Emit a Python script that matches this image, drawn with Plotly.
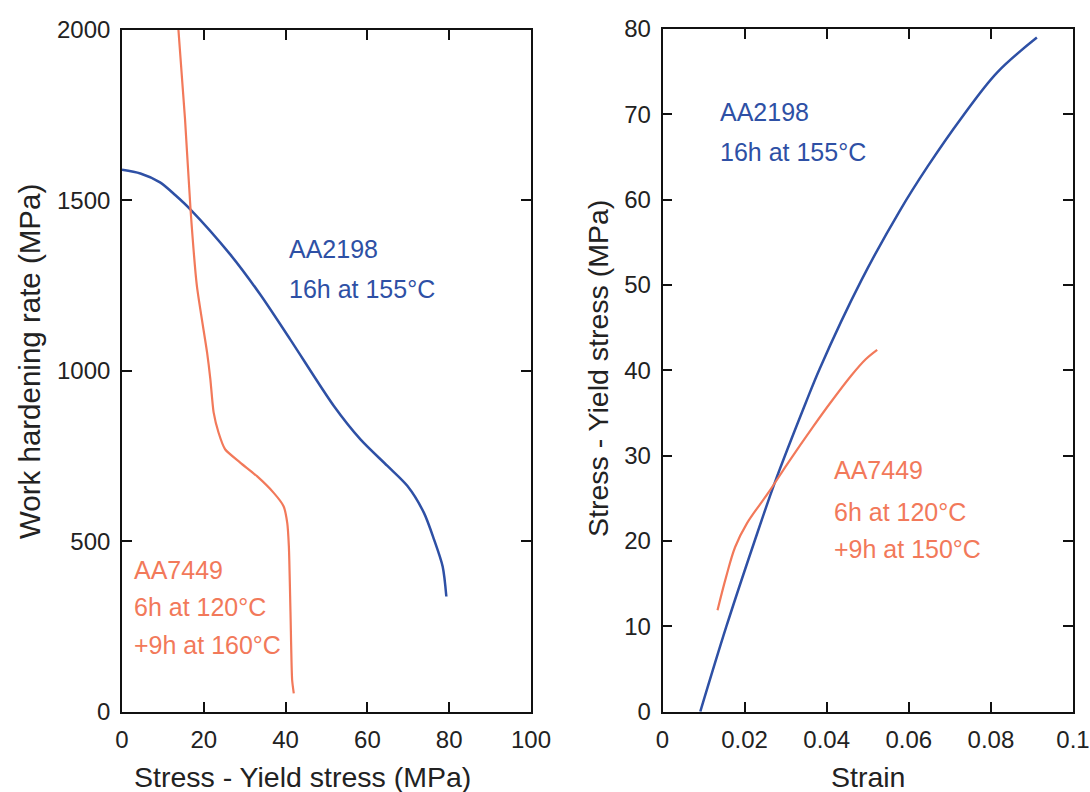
import plotly.graph_objects as go

# ---- Left panel: work hardening rate vs (stress - yield stress) ----
l_aa2198_x = [0, 4.5, 9.3, 13.0, 16.7, 26.5, 33.8, 41.2, 51.8, 58.3, 64.9, 69.8, 73.8, 76.3, 78.4, 79.3]
l_aa2198_y = [1590, 1579, 1553, 1516, 1474, 1341, 1224, 1091, 897, 799, 721, 662, 584, 505, 426, 338]

l_aa7449_x = [13.8, 15.4, 16.8, 18.3, 20.8, 21.6, 22.4, 23.6, 25.2, 28.9, 33.0, 37.1, 39.5, 40.4, 40.8, 41.2, 41.6, 42.0]
l_aa7449_y = [2000, 1740, 1466, 1250, 1054, 976, 878, 819, 770, 731, 691, 642, 603, 554, 485, 289, 93, 54]

# ---- Right panel: (stress - yield stress) vs strain ----
r_aa2198_x = [0.0092, 0.0155, 0.0223, 0.0274, 0.0349, 0.0383, 0.0485, 0.0578, 0.0646, 0.0730, 0.0815, 0.0912]
r_aa2198_y = [0, 9.9, 19.8, 26.9, 36.2, 40.2, 50.6, 58.7, 63.9, 69.7, 74.9, 79.0]

r_aa7449_x = [0.0134, 0.0155, 0.0177, 0.0206, 0.0257, 0.0308, 0.0367, 0.0409, 0.0460, 0.0495, 0.0523]
r_aa7449_y = [11.9, 15.8, 19.3, 22.1, 25.6, 29.3, 33.4, 36.2, 39.4, 41.3, 42.4]

BLUE = "#2e50a5"
ORANGE = "#f2795a"
FONT = "Liberation Sans, Arial, sans-serif"

fig = go.Figure()
fig.add_trace(go.Scatter(x=l_aa2198_x, y=l_aa2198_y, mode="lines", line=dict(color=BLUE, width=2.5, shape="spline", smoothing=0.8),
                         xaxis="x", yaxis="y", name="AA2198"))
fig.add_trace(go.Scatter(x=l_aa7449_x, y=l_aa7449_y, mode="lines", line=dict(color=ORANGE, width=2.2, shape="spline", smoothing=0.6),
                         xaxis="x", yaxis="y", name="AA7449"))
fig.add_trace(go.Scatter(x=r_aa2198_x, y=r_aa2198_y, mode="lines", line=dict(color=BLUE, width=2.5, shape="spline", smoothing=1.0),
                         xaxis="x2", yaxis="y2", name="AA2198"))
fig.add_trace(go.Scatter(x=r_aa7449_x, y=r_aa7449_y, mode="lines", line=dict(color=ORANGE, width=2.2, shape="spline", smoothing=1.0),
                         xaxis="x2", yaxis="y2", name="AA7449"))

W, H = 1090, 792
def fx(px):
    return px / W
def fy(py):
    return 1 - py / H

axis_common = dict(showgrid=False, zeroline=False, showline=True, linecolor="#111", linewidth=1.6,
                   mirror="allticks", ticks="inside", ticklen=10, tickwidth=1.6, tickcolor="#111",
                   tickfont=dict(family=FONT, size=24, color="#222"), automargin=False)

fig.update_layout(
    width=W, height=H, margin=dict(l=0, r=0, t=0, b=0),
    paper_bgcolor="white", plot_bgcolor="white", showlegend=False,
    font=dict(family=FONT),
    xaxis=dict(domain=[fx(122), fx(531)], range=[0, 100], dtick=20, anchor="y", ticklabelstandoff=6, **axis_common),
    yaxis=dict(domain=[fy(711.7), fy(30)], range=[0, 2000], dtick=500, anchor="x", ticklabelstandoff=5, **axis_common),
    xaxis2=dict(domain=[fx(662.5), fx(1073)], range=[0, 0.1], dtick=0.02, anchor="y2", ticklabelstandoff=6, **axis_common),
    yaxis2=dict(domain=[fy(711.7), fy(29)], range=[0, 80], dtick=10, anchor="x2", ticklabelstandoff=5, **axis_common),
)

def ann(text, x, y, xref, yref, color, size=25, angle=0, xanchor="left"):
    fig.add_annotation(text=text, x=x, y=y, xref=xref, yref=yref, showarrow=False,
                       font=dict(family=FONT, size=size, color=color), xanchor=xanchor,
                       yanchor="middle", textangle=angle)

# axis titles
ann("Stress - Yield stress (MPa)", fx(302.5), fy(777), "paper", "paper", "#222", size=28.5, xanchor="center")
ann("Strain", fx(868), fy(777), "paper", "paper", "#222", size=28.5, xanchor="center")
ann("Work hardening rate (MPa)", fx(29), fy(362), "paper", "paper", "#222", size=29.5, angle=-90, xanchor="center")
ann("Stress - Yield stress (MPa)", fx(598), fy(369), "paper", "paper", "#222", size=28.5, angle=-90, xanchor="center")

# curve labels, left
ann("AA2198", 40.3, 1358, "x", "y", BLUE)
ann("16h at 155°C", 40.3, 1240, "x", "y", BLUE)
ann("AA7449", 2.4, 417, "x", "y", ORANGE)
ann("6h at 120°C", 2.4, 308, "x", "y", ORANGE)
ann("+9h at 160°C", 2.4, 196, "x", "y", ORANGE)

# curve labels, right
ann("AA2198", 0.0136, 70.3, "x2", "y2", BLUE)
ann("16h at 155°C", 0.0136, 65.6, "x2", "y2", BLUE)
ann("AA7449", 0.0412, 28.3, "x2", "y2", ORANGE)
ann("6h at 120°C", 0.0412, 23.4, "x2", "y2", ORANGE)
ann("+9h at 150°C", 0.0412, 19.1, "x2", "y2", ORANGE)

# remove the default 8px page margin so the 1090x792 figure fills the window exactly
fig.write_html("out.html", config={"displayModeBar": False},
               post_script="document.body.style.margin='0';document.body.style.overflow='hidden';")
